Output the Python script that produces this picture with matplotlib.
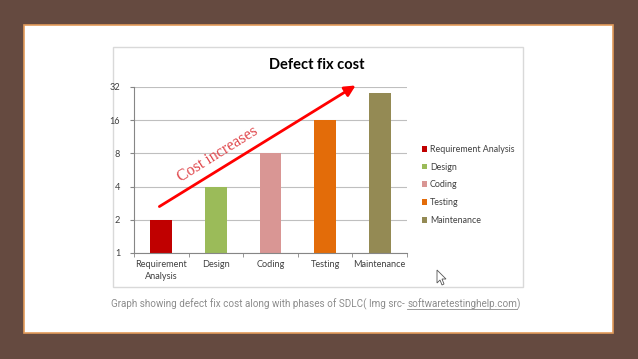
import matplotlib.pyplot as plt
from matplotlib.patches import Rectangle, Polygon, FancyArrowPatch
from matplotlib.lines import Line2D
from matplotlib.ticker import NullLocator

phases = ['Requirement Analysis', 'Design', 'Coding', 'Testing', 'Maintenance']
tick_labels = ['Requirement\nAnalysis', 'Design', 'Coding', 'Testing', 'Maintenance']
costs = [2, 4, 8, 16, 28]
colors = ['#C00000', '#9BBB59', '#D99694', '#E36C09', '#948A54']
yticks = [1, 2, 4, 8, 16, 32]
caption_main = 'Graph showing defect fix cost along with phases of SDLC( Img src- '
caption_link = 'softwaretestinghelp.com'

W, H = 638, 359


def fx(x):
    return x / W


def fy(y):
    return 1 - y / H


fig = plt.figure(figsize=(6.38, 3.59), dpi=100)
fig.patch.set_facecolor('#654A40')

# slide and pasted chart box (behind the axes)
fig.add_artist(Rectangle((fx(24), fy(333)), (613 - 24) / W, (333 - 25) / H,
                         transform=fig.transFigure, facecolor='white',
                         edgecolor='#E39B5A', lw=1.2, zorder=-3))
fig.add_artist(Rectangle((fx(113), fy(287)), (523 - 113) / W, (287 - 47) / H,
                         transform=fig.transFigure, facecolor='white',
                         edgecolor='#D9D9D9', lw=1, zorder=-2))

ax = fig.add_axes([fx(134), fy(253), (407 - 134) / W, (253 - 87) / H])
ax.patch.set_alpha(0)
x = list(range(len(phases)))
bars = ax.bar(x, [c - 1 for c in costs], bottom=1, width=0.4, color=colors,
              label=phases)
ax.set_yscale('log', base=2)
ax.set_ylim(1, 32)
ax.set_xlim(-0.5, len(phases) - 0.5)
ax.set_yticks(yticks)
ax.set_yticklabels([str(t) for t in yticks])
ax.yaxis.set_minor_locator(NullLocator())
ax.set_xticks(x)
ax.set_xticklabels(tick_labels, linespacing=1.45)
ax.set_xticks([i - 0.5 for i in range(len(phases) + 1)], minor=True)
ax.tick_params(axis='x', which='major', length=0, pad=5)
ax.tick_params(axis='x', which='minor', length=3, color='#868686')
ax.tick_params(axis='y', length=3, color='#868686', pad=7)
for lab in ax.get_xticklabels() + ax.get_yticklabels():
    lab.set_fontfamily('Lato')
    lab.set_fontsize(6.6)
    lab.set_color('#404040')
ax.yaxis.grid(True, color='#BFBFBF', lw=0.8)
ax.set_axisbelow(True)
ax.spines['top'].set_visible(False)
ax.spines['right'].set_visible(False)
ax.spines['left'].set_color('#868686')
ax.spines['bottom'].set_color('#868686')

fig.legend(bars, phases, loc='upper left', bbox_to_anchor=(fx(414), fy(137)),
           frameon=False, prop={'family': 'Lato', 'size': 6.4},
           handlelength=0.6, handleheight=0.6, handletextpad=0.3,
           labelspacing=0.98, labelcolor='#404040')

fig.text(fx(317), fy(65), 'Defect fix cost', ha='center', va='center',
         fontweight='bold', fontsize=10.5, family='Lato')

# "cost increases" arrow
fig.add_artist(FancyArrowPatch((fx(157), fy(208)), (fx(358), fy(84)),
                               transform=fig.transFigure, arrowstyle='-|>',
                               color='#FF0000', lw=2, mutation_scale=16))
fig.text(fx(218), fy(154), 'Cost increases', rotation=32,
         rotation_mode='anchor', ha='center', va='center',
         family='Liberation Serif', fontsize=11.5, color='#E0474C')

# caption with underlined link
cap = fig.text(fx(111), fy(304), caption_main, ha='left', va='center',
               family='Roboto', fontsize=7.15, color='#8C8C8C')
fig.canvas.draw()
r = fig.canvas.get_renderer()
bb = cap.get_window_extent(r)
link = fig.text(bb.x1 / W, fy(304), caption_link, ha='left', va='center',
                family='Roboto', fontsize=7.15, color='#8C8C8C')
lb = link.get_window_extent(r)
fig.text(lb.x1 / W, fy(304), ')', ha='left', va='center',
         family='Roboto', fontsize=7.15, color='#8C8C8C')
fig.add_artist(Line2D([lb.x0 / W, lb.x1 / W], [(lb.y0 + 0.5) / H] * 2,
                      transform=fig.transFigure, color='#8C8C8C', lw=0.6))

# mouse cursor
tip = (437, 270)
cur = [(0, 0), (0, 13), (3, 10), (5, 15), (7, 14), (5, 9), (9, 9)]
fig.add_artist(Polygon([(fx(tip[0] + a), fy(tip[1] + b)) for a, b in cur],
                       closed=True, transform=fig.transFigure,
                       facecolor='white', edgecolor='#555555', lw=0.6))

fig.savefig('out.png', dpi=100, facecolor=fig.get_facecolor())
